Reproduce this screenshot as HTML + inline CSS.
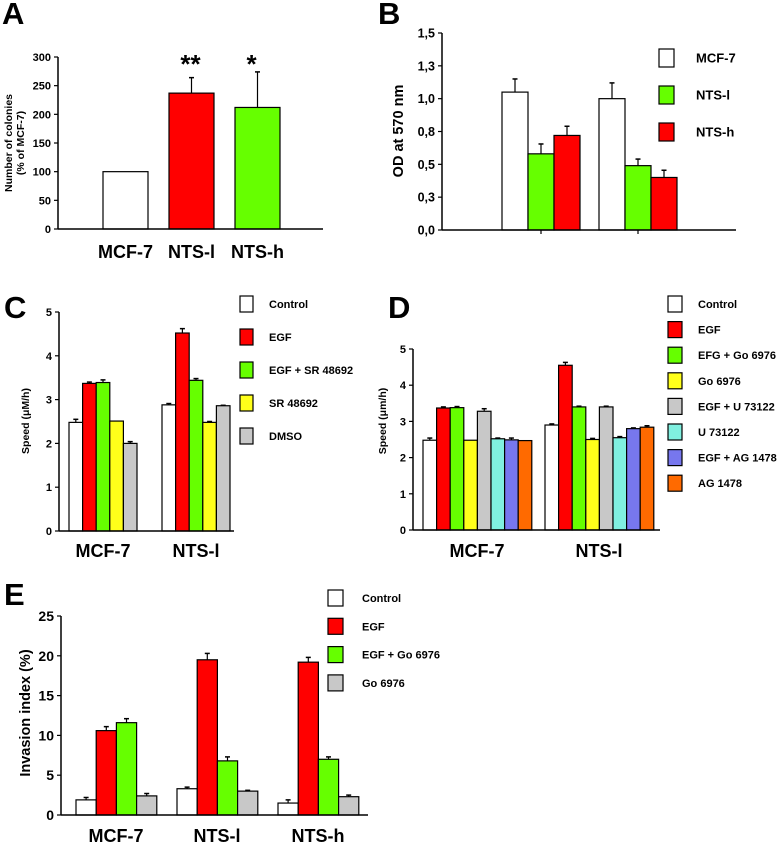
<!DOCTYPE html>
<html><head><meta charset="utf-8">
<style>
html,body{margin:0;padding:0;background:#fff;}
svg{display:block;font-family:"Liberation Sans",Arial,sans-serif;font-weight:bold;}
</style></head>
<body>
<svg id="fig" width="777" height="847" viewBox="0 0 777 847" xmlns="http://www.w3.org/2000/svg"></svg>
<script>
// Panel A data
const aCategories = ["MCF-7", "NTS-l", "NTS-h"];
const aValues = [100, 237, 212];
const aErrors = [0, 27, 62];
const aStars = ["", "**", "*"];
const aTicks = [0, 50, 100, 150, 200, 250, 300];
// Panel B data
const bSeries = ["MCF-7", "NTS-l", "NTS-h"];
const bValues = [[1.05, 1.0], [0.58, 0.49], [0.72, 0.40]];
const bErrors = [[0.10, 0.12], [0.075, 0.05], [0.07, 0.055]];
const bTickValues = [0, 0.25, 0.5, 0.75, 1.0, 1.25, 1.5];
const bTickLabels = ["0,0", "0,3", "0,5", "0,8", "1,0", "1,3", "1,5"];
// Panel C data
const cCategories = ["MCF-7", "NTS-l"];
const cSeries = ["Control", "EGF", "EGF + SR 48692", "SR 48692", "DMSO"];
const cValues = [[2.48, 2.88], [3.37, 4.52], [3.39, 3.44], [2.51, 2.48], [2.0, 2.86]];
const cErrors = [[0.07, 0.03], [0.03, 0.10], [0.06, 0.04], [0.0, 0.02], [0.04, 0.01]];
const cTicks = [0, 1, 2, 3, 4, 5];
// Panel D data
const dCategories = ["MCF-7", "NTS-l"];
const dSeries = ["Control", "EGF", "EFG + Go 6976", "Go 6976", "EGF + U 73122", "U 73122", "EGF + AG 1478", "AG 1478"];
const dValues = [[2.48, 2.9], [3.37, 4.55], [3.38, 3.4], [2.48, 2.5], [3.28, 3.4], [2.52, 2.55], [2.49, 2.8], [2.47, 2.84]];
const dErrors = [[0.06, 0.03], [0.03, 0.08], [0.03, 0.02], [0.0, 0.03], [0.07, 0.02], [0.02, 0.03], [0.05, 0.02], [0.0, 0.04]];
const dTicks = [0, 1, 2, 3, 4, 5];
// Panel E data
const eCategories = ["MCF-7", "NTS-l", "NTS-h"];
const eSeries = ["Control", "EGF", "EGF + Go 6976", "Go 6976"];
const eValues = [[1.9, 3.3, 1.5], [10.6, 19.5, 19.2], [11.6, 6.8, 7.0], [2.4, 3.0, 2.3]];
const eErrors = [[0.3, 0.2, 0.4], [0.5, 0.8, 0.6], [0.5, 0.5, 0.3], [0.3, 0.1, 0.2]];
const eTicks = [0, 5, 10, 15, 20, 25];

const NS = "http://www.w3.org/2000/svg";
const fig = document.getElementById("fig");
function el(tag, attrs, parent) {
  const e = document.createElementNS(NS, tag);
  for (const k in attrs) e.setAttribute(k, attrs[k]);
  (parent || fig).appendChild(e);
  return e;
}
function txt(s, attrs, parent) { const t = el("text", attrs, parent); t.textContent = s; return t; }
function yScaleFn(y0px, y1px, vmax) { return v => y0px - (v / vmax) * (y0px - y1px); }

function axes(g, ax, y0, y1, xEnd, ticks, labels, yfn, fs, name) {
  const ya = el("line", {x1: ax, y1: y0, x2: ax, y2: y1, stroke: "#000", "stroke-width": 1.5}, g);
  
  
  const xa = el("line", {x1: ax, y1: y0, x2: xEnd, y2: y0, stroke: "#000", "stroke-width": 1.5}, g);
  
  
  ticks.forEach((t, i) => {
    const y = yfn(t);
    const tk = el("line", {x1: ax - 4, y1: y, x2: ax, y2: y, stroke: "#000", "stroke-width": 1.2}, g);
    
    
    const tl = txt(labels[i], {x: ax - 7, y: y + fs * 0.36, "text-anchor": "end", "font-size": fs}, g);
    
    
  });
}
function bar(g, x, w, v, err, yfn, y0, fill, name) {
  const top = yfn(v);
  if (err > 0) {
    const ex = x + w / 2;
    const l = el("line", {x1: ex, y1: top, x2: ex, y2: yfn(v + err), stroke: "#000", "stroke-width": 1.2}, g);
    
    
    const c = el("line", {x1: ex - 2.5, y1: yfn(v + err), x2: ex + 2.5, y2: yfn(v + err), stroke: "#000", "stroke-width": 1.5}, g);
    
    
  }
  const r = el("rect", {x: x, y: top, width: w, height: y0 - top, fill: fill, stroke: "#000", "stroke-width": 1.2}, g);
  
  
}
function legend(g, items, colors, bx, by, bw, bh, step, tx, fs, name) {
  items.forEach((s, i) => {
    const r = el("rect", {x: bx, y: by + i * step, width: bw, height: bh, fill: colors[i], stroke: "#000", "stroke-width": 1.2}, g);
    
    
    const t = txt(s, {x: tx, y: by + i * step + bh / 2 + fs * 0.36, "font-size": fs}, g);
    
    
  });
}
function panelLetter(g, s, x, y) {
  const t = txt(s, {x: x, y: y, "font-size": 31, "font-family": "Liberation Sans, sans-serif"}, g);
  
  
}
const WHITE = "#ffffff", RED = "#ff0000", GREEN = "#66ff00", YELLOW = "#ffff1a", GREY = "#c8c8c8", CYAN = "#80f0e0", BLUE = "#7777ee", ORANGE = "#ff6a00";

// ---------- Panel A ----------
{
  const g = el("g", {});
  
  
  panelLetter(g, "A", 2, 24);
  const y0 = 229, y1 = 57, ax = 58;
  const yf = yScaleFn(y0, y1, 300);
  const fills = [WHITE, RED, GREEN];
  aCategories.forEach((c, i) => {
    const x = 103 + i * 66;
    bar(g, x, 45, aValues[i], aErrors[i], yf, y0, fills[i], 'bar-' + c.toLowerCase());
    const cl = txt(c, {x: x + 22.5, y: 258, "text-anchor": "middle", "font-size": 18}, g);
    
    
    if (aStars[i]) {
      const st = txt(aStars[i], {x: x + 22.5 - (i === 1 ? 1 : 6), y: 73, "text-anchor": "middle", "font-size": 26}, g);
      
      
    }
  });
  axes(g, ax, y0, y1, 323, aTicks, aTicks.map(String), yf, 11, 'panel-a');
  const t1 = txt("Number of colonies", {transform: "translate(12,143) rotate(-90)", "text-anchor": "middle", "font-size": 10.5}, g);
  
  
  const t2 = txt("(% of MCF-7)", {transform: "translate(24,143) rotate(-90)", "text-anchor": "middle", "font-size": 10.5}, g);
  
  
}

// ---------- Panel B ----------
{
  const g = el("g", {});
  
  
  panelLetter(g, "B", 378, 24);
  const y0 = 230, y1 = 33, ax = 442;
  const yf = yScaleFn(y0, y1, 1.5);
  const fills = [WHITE, GREEN, RED];
  const starts = [502, 599];
  [0, 1].forEach(gi => {
    bSeries.forEach((s, si) => {
      bar(g, starts[gi] + si * 26, 26, bValues[si][gi], bErrors[si][gi], yf, y0, fills[si], 'bar-' + s.toLowerCase());
    });
    const tk = el("line", {x1: starts[gi] + 39, y1: y0, x2: starts[gi] + 39, y2: y0 + 4, stroke: "#000", "stroke-width": 1.2}, g);
    
    
  });
  axes(g, ax, y0, y1, 736, bTickValues, bTickLabels, yf, 12.5, 'panel-b');
  const yt = txt("OD at 570 nm", {transform: "translate(403,131) rotate(-90)", "text-anchor": "middle", "font-size": 14.5}, g);
  
  
  legend(g, bSeries, fills, 659, 49, 15, 18, 37, 696, 13, 'panel-b');
}

// ---------- Panel C ----------
{
  const g = el("g", {});
  
  
  panelLetter(g, "C", 4, 318);
  const y0 = 531, y1 = 312, ax = 59;
  const yf = yScaleFn(y0, y1, 5);
  const fills = [WHITE, RED, GREEN, YELLOW, GREY];
  const starts = [69, 162];
  cCategories.forEach((c, gi) => {
    cSeries.forEach((s, si) => {
      bar(g, starts[gi] + si * 13.6, 13.6, cValues[si][gi], cErrors[si][gi], yf, y0, fills[si], 'bar-' + s.toLowerCase().replace(/[^a-z0-9]+/g, '-'));
    });
    const cl = txt(c, {x: starts[gi] + 34, y: 557, "text-anchor": "middle", "font-size": 18}, g);
    
    
  });
  axes(g, ax, y0, y1, 234, cTicks, cTicks.map(String), yf, 11, 'panel-c');
  const yt = txt("Speed (\u03bcM/h)", {transform: "translate(29,421) rotate(-90)", "text-anchor": "middle", "font-size": 10.5}, g);
  
  
  legend(g, cSeries, fills, 240, 296, 13, 16, 33, 269, 11, 'panel-c');
}

// ---------- Panel D ----------
{
  const g = el("g", {});
  
  
  panelLetter(g, "D", 388, 318);
  const y0 = 530, y1 = 349, ax = 413;
  const yf = yScaleFn(y0, y1, 5);
  const fills = [WHITE, RED, GREEN, YELLOW, GREY, CYAN, BLUE, ORANGE];
  const starts = [423, 545];
  dCategories.forEach((c, gi) => {
    dSeries.forEach((s, si) => {
      bar(g, starts[gi] + si * 13.6, 13.6, dValues[si][gi], dErrors[si][gi], yf, y0, fills[si], 'bar-' + s.toLowerCase().replace(/[^a-z0-9]+/g, '-'));
    });
    const cl = txt(c, {x: starts[gi] + 54, y: 557, "text-anchor": "middle", "font-size": 18}, g);
    
    
  });
  axes(g, ax, y0, y1, 660, dTicks, dTicks.map(String), yf, 11, 'panel-d');
  const yt = txt("Speed (\u03bcm/h)", {transform: "translate(386,421) rotate(-90)", "text-anchor": "middle", "font-size": 10.5}, g);
  
  
  legend(g, dSeries, fills, 668, 296, 14, 16, 25.6, 698, 11, 'panel-d');
}

// ---------- Panel E ----------
{
  const g = el("g", {});
  
  
  panelLetter(g, "E", 4, 605);
  const y0 = 815, y1 = 616, ax = 61;
  const yf = yScaleFn(y0, y1, 25);
  const fills = [WHITE, RED, GREEN, GREY];
  const starts = [76, 177, 278];
  eCategories.forEach((c, gi) => {
    eSeries.forEach((s, si) => {
      bar(g, starts[gi] + si * 20.2, 20.2, eValues[si][gi], eErrors[si][gi], yf, y0, fills[si], 'bar-' + s.toLowerCase().replace(/[^a-z0-9]+/g, '-'));
    });
    const cl = txt(c, {x: starts[gi] + 40, y: 842, "text-anchor": "middle", "font-size": 18}, g);
    
    
  });
  axes(g, ax, y0, y1, 368, eTicks, eTicks.map(String), yf, 14, 'panel-e');
  const yt = txt("Invasion index (%)", {transform: "translate(30,713) rotate(-90)", "text-anchor": "middle", "font-size": 14.5}, g);
  
  
  legend(g, eSeries, fills, 328, 590, 15, 16, 28.3, 362, 11, 'panel-e');
}
</script>
</body></html>
